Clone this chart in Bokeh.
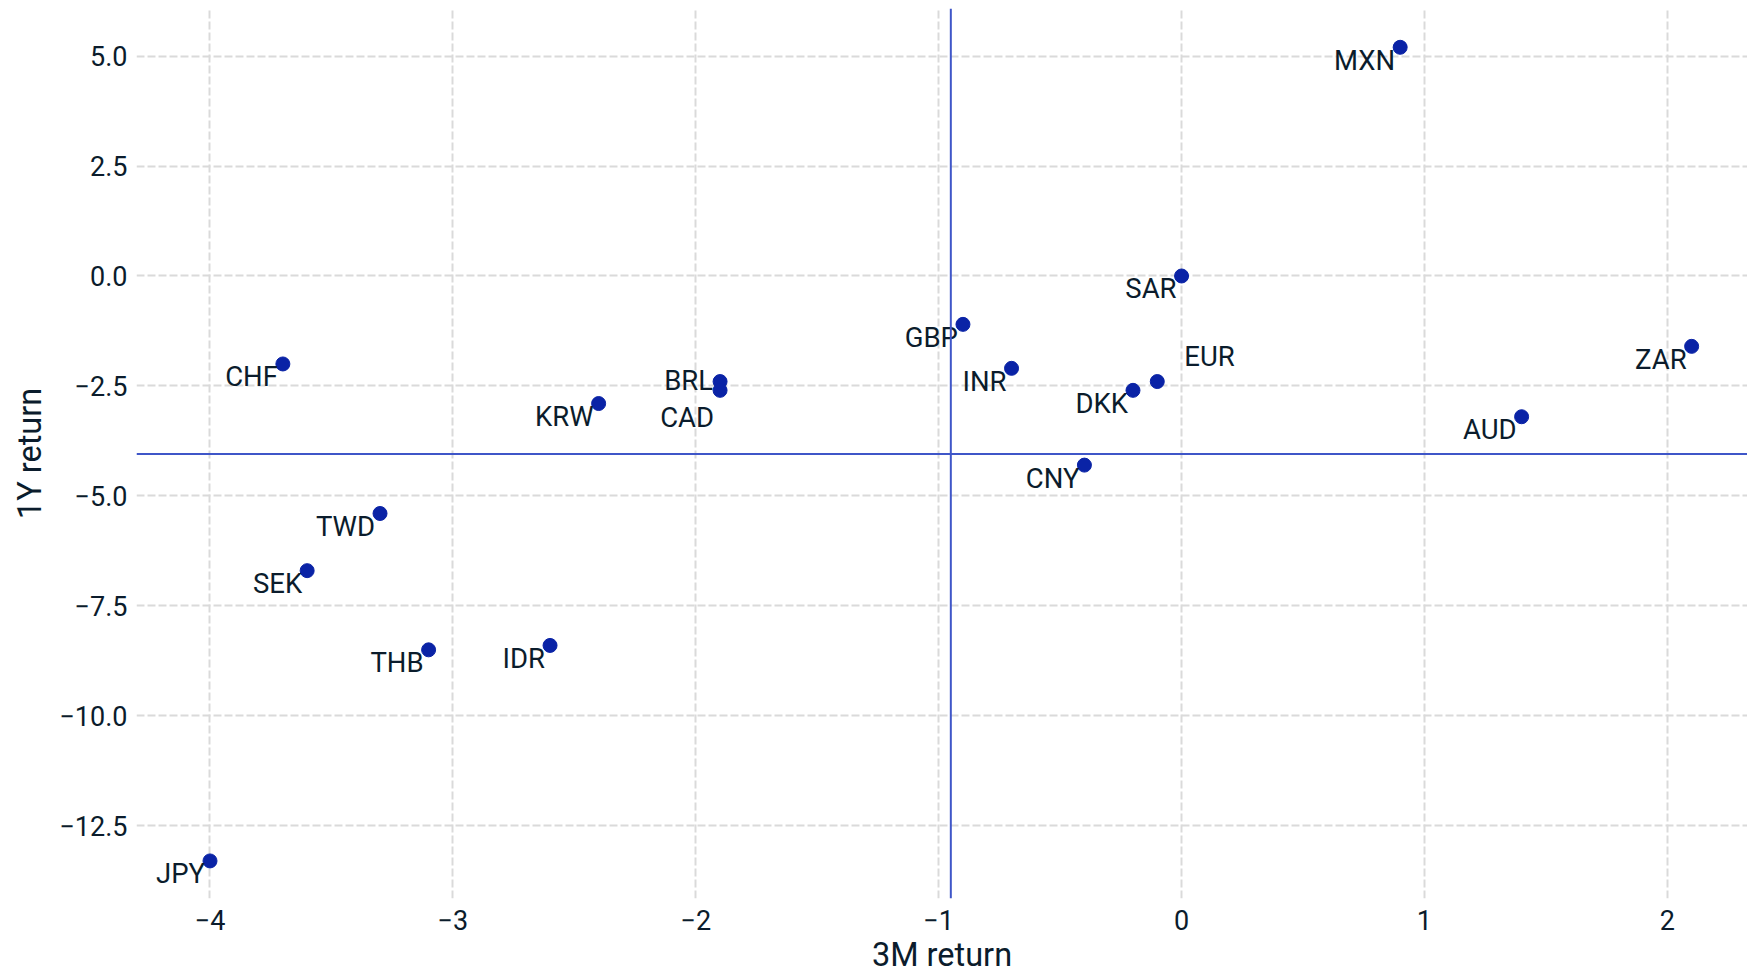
from bokeh.plotting import figure
from bokeh.models import ColumnDataSource, FixedTicker, Span
from bokeh.core.properties import value
from bokeh.embed import file_html
from bokeh.resources import INLINE

# ---- data ----
currencies = ["MXN", "SAR", "GBP", "INR", "EUR", "DKK", "CNY", "ZAR", "AUD",
              "CHF", "BRL", "CAD", "KRW", "TWD", "SEK", "THB", "IDR", "JPY"]
ret_3m = [0.9, 0.0, -0.9, -0.7, -0.1, -0.2, -0.4, 2.1, 1.4,
          -3.7, -1.9, -1.9, -2.4, -3.3, -3.6, -3.1, -2.6, -4.0]
ret_1y = [5.2, 0.0, -1.1, -2.1, -2.4, -2.6, -4.3, -1.6, -3.2,
          -2.0, -2.4, -2.6, -2.9, -5.4, -6.7, -8.5, -8.4, -13.3]
# quadrant lines at the middle of each axis' data span
ref_3m = (min(ret_3m) + max(ret_3m)) / 2
ref_1y = (min(ret_1y) + max(ret_1y)) / 2

x_ticks = [-4, -3, -2, -1, 0, 1, 2]
x_tick_labels = ["\u22124", "\u22123", "\u22122", "\u22121", "0", "1", "2"]
y_ticks = [5.0, 2.5, 0.0, -2.5, -5.0, -7.5, -10.0, -12.5]
y_tick_labels = ["5.0", "2.5", "0.0", "\u22122.5", "\u22125.0", "\u22127.5", "\u221210.0", "\u221212.5"]
x_title = "3M return"
y_title = "1Y return"

# ---- label placement (screen px offsets; style only) ----
special_offsets = {"EUR": (27, -25, "left"), "BRL": (-7, -1, "right"), "CAD": (-6, 27, "right")}
default_offset = (-5, 13, "right")
xo, yo, al = [], [], []
for c in currencies:
    dx, dy, a = special_offsets.get(c, default_offset)
    xo.append(dx); yo.append(dy); al.append(a)

src = ColumnDataSource(dict(x=ret_3m, y=ret_1y, name=currencies, xo=xo, yo=yo, al=al))

FONT = "Roboto"
TXT = "#0b1c2c"

p = figure(width=1747, height=976, output_backend="svg", toolbar_location=None,
           x_range=(-4.3026, 2.33), y_range=(-14.154, 6.082),
           min_border_left=136, min_border_right=0, min_border_top=8, min_border_bottom=76)
p.outline_line_color = None
p.background_fill_color = "white"
p.border_fill_color = "white"

for g in (p.xgrid, p.ygrid):
    g.grid_line_color = "#dadada"
    g.grid_line_width = 2
    g.grid_line_dash = "8 3"

p.xaxis.ticker = FixedTicker(ticks=x_ticks)
p.yaxis.ticker = FixedTicker(ticks=y_ticks)
p.xaxis.major_label_overrides = {t: l for t, l in zip(x_ticks, x_tick_labels)}
p.yaxis.major_label_overrides = {t: l for t, l in zip(y_ticks, y_tick_labels)}
p.xaxis.axis_label = x_title
p.yaxis.axis_label = y_title
for ax in (p.xaxis, p.yaxis):
    ax.axis_line_color = None
    ax.major_tick_line_color = None
    ax.minor_tick_line_color = None
    ax.major_tick_out = 0
    ax.major_tick_in = 0
    ax.major_label_text_font = FONT
    ax.major_label_text_font_size = "27px"
    ax.major_label_text_color = TXT
    ax.axis_label_text_font = FONT
    ax.axis_label_text_font_size = "32.5px"
    ax.axis_label_text_font_style = "normal"
    ax.axis_label_text_color = TXT
p.xaxis.major_label_standoff = 11
p.xaxis.axis_label_standoff = 3
p.yaxis.major_label_standoff = 9
p.yaxis.axis_label_standoff = 7

p.add_layout(Span(location=ref_1y, dimension="width", line_color="#3f56c8", line_width=2))
p.add_layout(Span(location=ref_3m, dimension="height", line_color="#3f56c8", line_width=2))

p.scatter("x", "y", source=src, size=14, color="#0a23a6")
p.text("x", "y", text="name", source=src, x_offset="xo", y_offset="yo",
       text_align="al", text_baseline="middle", text_font=value(FONT),
       text_font_size="27.5px", text_color=TXT)

open("out.html", "w").write(file_html(p, INLINE))
